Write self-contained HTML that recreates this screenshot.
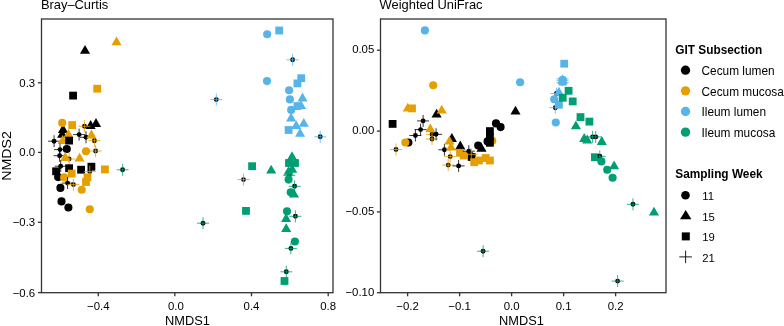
<!DOCTYPE html>
<html><head><meta charset="utf-8"><title>NMDS</title>
<style>
html,body{margin:0;padding:0;background:#fff;}
body{width:784px;height:326px;overflow:hidden;font-family:"Liberation Sans",sans-serif;}
svg{display:block;will-change:transform;}
text{font-family:"Liberation Sans",sans-serif;fill:#000;}
.tk{font-size:11.4px;fill:#000;}
.tx{font-size:11.85px;}
.tb{font-size:11.85px;font-weight:bold;}
.tt{font-size:12.9px;}
.tn{font-size:11.3px;}
.ta{font-size:12.8px;}
</style></head>
<body>
<svg width="784" height="326" viewBox="0 0 784 326">
<rect x="0" y="0" width="784" height="326" fill="#ffffff"/>
<rect x="41.5" y="19.0" width="291.5" height="273.7" fill="none" stroke="#333333" stroke-width="1.3"/>
<rect x="380.5" y="19.0" width="285.5" height="273.7" fill="none" stroke="#333333" stroke-width="1.3"/>
<text x="35.2" y="86.70" text-anchor="end" class="tk">0.3</text>
<text x="35.2" y="156.30" text-anchor="end" class="tk">0.0</text>
<text x="35.2" y="226.20" text-anchor="end" class="tk">−0.3</text>
<text x="35.2" y="296.50" text-anchor="end" class="tk">−0.6</text>
<text x="98.3" y="310.0" text-anchor="middle" class="tk">−0.4</text>
<text x="175.9" y="310.0" text-anchor="middle" class="tk">0.0</text>
<text x="251.5" y="310.0" text-anchor="middle" class="tk">0.4</text>
<text x="328.2" y="310.0" text-anchor="middle" class="tk">0.8</text>
<text x="374.3" y="53.40" text-anchor="end" class="tk">0.05</text>
<text x="374.3" y="134.30" text-anchor="end" class="tk">0.00</text>
<text x="374.3" y="215.10" text-anchor="end" class="tk">−0.05</text>
<text x="374.3" y="295.90" text-anchor="end" class="tk">−0.10</text>
<text x="407.6" y="310.0" text-anchor="middle" class="tk">−0.2</text>
<text x="459.6" y="310.0" text-anchor="middle" class="tk">−0.1</text>
<text x="511.6" y="310.0" text-anchor="middle" class="tk">0.0</text>
<text x="563.6" y="310.0" text-anchor="middle" class="tk">0.1</text>
<text x="615.6" y="310.0" text-anchor="middle" class="tk">0.2</text>
<path d="M37.9 82.8H41.5" stroke="#333333" stroke-width="1.3"/>
<path d="M37.9 152.4H41.5" stroke="#333333" stroke-width="1.3"/>
<path d="M37.9 222.3H41.5" stroke="#333333" stroke-width="1.3"/>
<path d="M37.9 292.6H41.5" stroke="#333333" stroke-width="1.3"/>
<path d="M98.3 292.7V296.3" stroke="#333333" stroke-width="1.3"/>
<path d="M174.8 292.7V296.3" stroke="#333333" stroke-width="1.3"/>
<path d="M251.5 292.7V296.3" stroke="#333333" stroke-width="1.3"/>
<path d="M328.2 292.7V296.3" stroke="#333333" stroke-width="1.3"/>
<path d="M376.9 50.2H380.5" stroke="#333333" stroke-width="1.3"/>
<path d="M376.9 131.1H380.5" stroke="#333333" stroke-width="1.3"/>
<path d="M376.9 211.9H380.5" stroke="#333333" stroke-width="1.3"/>
<path d="M376.9 292.7H380.5" stroke="#333333" stroke-width="1.3"/>
<path d="M407.6 292.7V296.3" stroke="#333333" stroke-width="1.3"/>
<path d="M459.6 292.7V296.3" stroke="#333333" stroke-width="1.3"/>
<path d="M511.6 292.7V296.3" stroke="#333333" stroke-width="1.3"/>
<path d="M563.6 292.7V296.3" stroke="#333333" stroke-width="1.3"/>
<path d="M615.6 292.7V296.3" stroke="#333333" stroke-width="1.3"/>
<text x="40.9" y="9.3" class="tt">Bray–Curtis</text>
<text x="379.6" y="9.3" class="tt">Weighted UniFrac</text>
<text x="187.4" y="324.8" text-anchor="middle" class="ta">NMDS1</text>
<text x="521.5" y="324.8" text-anchor="middle" class="ta">NMDS1</text>
<text transform="translate(10.6,155.9) rotate(-90) scale(1.11,1)" text-anchor="middle" class="ta">NMDS2</text>
<text x="675.3" y="53.8" class="tb">GIT Subsection</text>
<circle cx="685.5" cy="70.20" r="4.65" fill="#000000"/>
<text x="701.5" y="75.00" class="tx">Cecum lumen</text>
<circle cx="685.5" cy="90.85" r="4.65" fill="#E69F00"/>
<text x="701.5" y="95.65" class="tx">Cecum mucosa</text>
<circle cx="685.5" cy="111.50" r="4.65" fill="#56B4E9"/>
<text x="701.5" y="116.30" class="tx">Ileum lumen</text>
<circle cx="685.5" cy="132.15" r="4.65" fill="#009E73"/>
<text x="701.5" y="136.95" class="tx">Ileum mucosa</text>
<text x="675.3" y="178.1" class="tb">Sampling Week</text>
<circle cx="685.5" cy="195.2" r="4.3" fill="#000"/>
<path d="M685.7 210.1L691.4000000000001 219.20000000000002L680.0 219.20000000000002Z" fill="#000"/>
<rect x="681.8" y="232.4" width="8.0" height="8.0" fill="#000"/>
<path d="M679.3000000000001 256.9H691.9M685.6 250.6V263.2" stroke="#000" stroke-width="0.9" fill="none"/>
<text x="702.3" y="199.80" class="tn">11</text>
<text x="702.3" y="220.50" class="tn">15</text>
<text x="702.3" y="241.10" class="tn">19</text>
<text x="702.3" y="261.80" class="tn">21</text>
<g><path d="M85.0 44.90L90.05 53.70L79.95 53.70Z" fill="#000000"/>
<path d="M116.5 36.40L121.55 45.20L111.45 45.20Z" fill="#E69F00"/>
<rect x="93.30" y="84.80" width="7.8" height="7.8" fill="#E69F00"/>
<rect x="69.20" y="91.70" width="7.8" height="7.8" fill="#000000"/>
<rect x="68.30" y="121.20" width="7.8" height="7.8" fill="#E69F00"/>
<path d="M90.6 120.10L95.65 128.90L85.55 128.90Z" fill="#000000"/>
<path d="M96.0 118.10L101.05 126.90L90.95 126.90Z" fill="#000000"/>
<circle cx="84.5" cy="126.3" r="2.45" fill="#000"/><path d="M78.50 126.30H90.50M84.50 120.30V132.30" stroke="#E69F00" stroke-width="0.8" fill="none"/>
<path d="M62.2 128.90L67.25 137.70L57.15 137.70Z" fill="#000000"/>
<path d="M63.0 124.10L68.05 132.90L57.95 132.90Z" fill="#000000"/>
<circle cx="62.2" cy="122.9" r="4.05" fill="#E69F00"/>
<path d="M68.4 128.90L73.45 137.70L63.35 137.70Z" fill="#E69F00"/>
<circle cx="79.1" cy="134.6" r="2.45" fill="#000"/><path d="M73.10 134.60H85.10M79.10 128.60V140.60" stroke="#000000" stroke-width="0.8" fill="none"/>
<circle cx="86.0" cy="137.3" r="2.45" fill="#000"/><path d="M80.00 137.30H92.00M86.00 131.30V143.30" stroke="#000000" stroke-width="0.8" fill="none"/>
<path d="M91.4 129.60L96.45 138.40L86.35 138.40Z" fill="#E69F00"/>
<circle cx="54.1" cy="141.2" r="2.45" fill="#000"/><path d="M48.10 141.20H60.10M54.10 135.20V147.20" stroke="#000000" stroke-width="0.8" fill="none"/>
<path d="M62.7 135.10L67.75 143.90L57.65 143.90Z" fill="#E69F00"/>
<rect x="65.20" y="136.70" width="7.8" height="7.8" fill="#000000"/>
<circle cx="94.4" cy="140.7" r="2.45" fill="#000"/><path d="M88.40 140.70H100.40M94.40 134.70V146.70" stroke="#E69F00" stroke-width="0.8" fill="none"/>
<circle cx="60.0" cy="149.6" r="2.45" fill="#000"/><path d="M54.00 149.60H66.00M60.00 143.60V155.60" stroke="#000000" stroke-width="0.8" fill="none"/>
<circle cx="66.8" cy="149.0" r="4.05" fill="#000000"/>
<circle cx="86.0" cy="151.3" r="4.05" fill="#E69F00"/>
<circle cx="95.6" cy="151.0" r="2.45" fill="#000"/><path d="M89.60 151.00H101.60M95.60 145.00V157.00" stroke="#E69F00" stroke-width="0.8" fill="none"/>
<circle cx="59.6" cy="155.7" r="2.45" fill="#000"/><path d="M53.60 155.70H65.60M59.60 149.70V161.70" stroke="#000000" stroke-width="0.8" fill="none"/>
<circle cx="69.1" cy="159.0" r="2.45" fill="#000"/><path d="M63.10 159.00H75.10M69.10 153.00V165.00" stroke="#E69F00" stroke-width="0.8" fill="none"/>
<path d="M65.3 152.10L70.35 160.90L60.25 160.90Z" fill="#E69F00"/>
<path d="M79.6 152.70L84.65 161.50L74.55 161.50Z" fill="#E69F00"/>
<circle cx="60.7" cy="166.2" r="2.45" fill="#000"/><path d="M54.70 166.20H66.70M60.70 160.20V172.20" stroke="#000000" stroke-width="0.8" fill="none"/>
<rect x="52.20" y="167.40" width="7.8" height="7.8" fill="#000000"/>
<rect x="65.20" y="164.30" width="7.8" height="7.8" fill="#000000"/>
<rect x="77.20" y="165.80" width="7.8" height="7.8" fill="#000000"/>
<rect x="87.50" y="162.80" width="7.8" height="7.8" fill="#000000"/>
<circle cx="89.8" cy="171.6" r="2.45" fill="#000"/><path d="M83.80 171.60H95.80M89.80 165.60V177.60" stroke="#E69F00" stroke-width="0.8" fill="none"/>
<rect x="67.80" y="169.70" width="7.8" height="7.8" fill="#E69F00"/>
<rect x="83.60" y="173.50" width="7.8" height="7.8" fill="#E69F00"/>
<rect x="82.10" y="178.10" width="7.8" height="7.8" fill="#E69F00"/>
<circle cx="58.1" cy="177.1" r="4.05" fill="#000000"/>
<circle cx="64.1" cy="177.4" r="4.05" fill="#E69F00"/>
<circle cx="67.6" cy="183.1" r="2.45" fill="#000"/><path d="M61.60 183.10H73.60M67.60 177.10V189.10" stroke="#000000" stroke-width="0.8" fill="none"/>
<circle cx="73.4" cy="184.6" r="2.45" fill="#000"/><path d="M67.40 184.60H79.40M73.40 178.60V190.60" stroke="#E69F00" stroke-width="0.8" fill="none"/>
<circle cx="60.4" cy="187.9" r="4.05" fill="#000000"/>
<circle cx="81.7" cy="189.8" r="4.05" fill="#E69F00"/>
<circle cx="61.5" cy="201.4" r="4.05" fill="#000000"/>
<circle cx="68.4" cy="207.5" r="4.05" fill="#000000"/>
<circle cx="89.8" cy="209.3" r="4.05" fill="#E69F00"/>
<rect x="101.00" y="165.50" width="7.8" height="7.8" fill="#E69F00"/>
<circle cx="122.6" cy="169.8" r="2.45" fill="#000"/><path d="M116.60 169.80H128.60M122.60 163.80V175.80" stroke="#009E73" stroke-width="0.8" fill="none"/>
<circle cx="216.3" cy="99.6" r="2.45" fill="#000"/><path d="M210.30 99.60H222.30M216.30 93.60V105.60" stroke="#56B4E9" stroke-width="0.8" fill="none"/>
<circle cx="267.0" cy="81.1" r="4.05" fill="#56B4E9"/>
<rect x="248.20" y="162.30" width="7.8" height="7.8" fill="#009E73"/>
<path d="M271.2 164.70L276.25 173.50L266.15 173.50Z" fill="#009E73"/>
<circle cx="243.5" cy="179.6" r="2.45" fill="#000"/><path d="M237.50 179.60H249.50M243.50 173.60V185.60" stroke="#56B4E9" stroke-width="0.8" fill="none"/>
<rect x="242.10" y="207.00" width="7.8" height="7.8" fill="#009E73"/>
<circle cx="203.0" cy="223.2" r="2.45" fill="#000"/><path d="M197.00 223.20H209.00M203.00 217.20V229.20" stroke="#009E73" stroke-width="0.8" fill="none"/>
<circle cx="267.2" cy="34.2" r="4.05" fill="#56B4E9"/>
<rect x="275.30" y="26.60" width="7.8" height="7.8" fill="#56B4E9"/>
<circle cx="292.6" cy="59.8" r="2.45" fill="#000"/><path d="M286.60 59.80H298.60M292.60 53.80V65.80" stroke="#56B4E9" stroke-width="0.8" fill="none"/>
<rect x="297.30" y="74.30" width="7.8" height="7.8" fill="#56B4E9"/>
<rect x="293.50" y="79.50" width="7.8" height="7.8" fill="#56B4E9"/>
<circle cx="289.1" cy="90.2" r="4.05" fill="#56B4E9"/>
<circle cx="289.9" cy="99.4" r="4.05" fill="#56B4E9"/>
<circle cx="291.2" cy="109.9" r="4.05" fill="#56B4E9"/>
<path d="M302.5 92.60L307.55 101.40L297.45 101.40Z" fill="#56B4E9"/>
<rect x="293.50" y="102.20" width="7.8" height="7.8" fill="#56B4E9"/>
<path d="M301.0 100.30L306.05 109.10L295.95 109.10Z" fill="#56B4E9"/>
<path d="M291.1 112.80L296.15 121.60L286.05 121.60Z" fill="#56B4E9"/>
<path d="M303.8 117.90L308.85 126.70L298.75 126.70Z" fill="#56B4E9"/>
<path d="M296.2 120.20L301.25 129.00L291.15 129.00Z" fill="#56B4E9"/>
<rect x="284.70" y="126.10" width="7.8" height="7.8" fill="#56B4E9"/>
<path d="M300.1 128.00L305.15 136.80L295.05 136.80Z" fill="#56B4E9"/>
<circle cx="320.2" cy="136.8" r="2.45" fill="#000"/><path d="M314.20 136.80H326.20M320.20 130.80V142.80" stroke="#56B4E9" stroke-width="0.8" fill="none"/>
<circle cx="289.2" cy="175.6" r="2.45" fill="#000"/><path d="M283.20 175.60H295.20M289.20 169.60V181.60" stroke="#009E73" stroke-width="0.8" fill="none"/>
<path d="M288.6 165.90L293.65 174.70L283.55 174.70Z" fill="#009E73"/>
<path d="M292.2 163.90L297.25 172.70L287.15 172.70Z" fill="#009E73"/>
<path d="M292.0 151.30L297.05 160.10L286.95 160.10Z" fill="#009E73"/>
<rect x="285.10" y="159.10" width="7.8" height="7.8" fill="#009E73"/>
<rect x="291.10" y="159.10" width="7.8" height="7.8" fill="#009E73"/>
<circle cx="288.6" cy="179.6" r="4.05" fill="#009E73"/>
<circle cx="294.6" cy="186.3" r="2.45" fill="#000"/><path d="M288.60 186.30H300.60M294.60 180.30V192.30" stroke="#009E73" stroke-width="0.8" fill="none"/>
<circle cx="290.7" cy="192.2" r="4.05" fill="#009E73"/>
<path d="M294.0 188.70L299.05 197.50L288.95 197.50Z" fill="#009E73"/>
<circle cx="287.0" cy="211.2" r="4.05" fill="#009E73"/>
<circle cx="295.4" cy="216.3" r="2.45" fill="#000"/><path d="M289.40 216.30H301.40M295.40 210.30V222.30" stroke="#009E73" stroke-width="0.8" fill="none"/>
<path d="M286.1 213.10L291.15 221.90L281.05 221.90Z" fill="#009E73"/>
<path d="M286.2 223.30L291.25 232.10L281.15 232.10Z" fill="#009E73"/>
<circle cx="294.9" cy="241.5" r="4.05" fill="#009E73"/>
<circle cx="290.9" cy="248.4" r="2.45" fill="#000"/><path d="M284.90 248.40H296.90M290.90 242.40V254.40" stroke="#009E73" stroke-width="0.8" fill="none"/>
<circle cx="286.3" cy="271.8" r="2.45" fill="#000"/><path d="M280.30 271.80H292.30M286.30 265.80V277.80" stroke="#009E73" stroke-width="0.8" fill="none"/>
<rect x="280.60" y="277.10" width="7.8" height="7.8" fill="#009E73"/></g>
<g><circle cx="424.9" cy="30.4" r="4.05" fill="#56B4E9"/>
<circle cx="433.2" cy="85.3" r="4.05" fill="#E69F00"/>
<rect x="408.10" y="104.50" width="7.8" height="7.8" fill="#E69F00"/>
<path d="M407.8 102.80L412.85 111.60L402.75 111.60Z" fill="#E69F00"/>
<rect x="388.70" y="120.00" width="7.8" height="7.8" fill="#000000"/>
<path d="M436.6 108.70L441.65 117.50L431.55 117.50Z" fill="#000000"/>
<path d="M441.7 104.70L446.75 113.50L436.65 113.50Z" fill="#E69F00"/>
<circle cx="423.1" cy="120.9" r="2.45" fill="#000"/><path d="M417.10 120.90H429.10M423.10 114.90V126.90" stroke="#000000" stroke-width="0.8" fill="none"/>
<circle cx="420.6" cy="129.6" r="2.45" fill="#000"/><path d="M414.60 129.60H426.60M420.60 123.60V135.60" stroke="#000000" stroke-width="0.8" fill="none"/>
<circle cx="415.4" cy="135.5" r="2.45" fill="#000"/><path d="M409.40 135.50H421.40M415.40 129.50V141.50" stroke="#000000" stroke-width="0.8" fill="none"/>
<path d="M430.3 123.50L435.35 132.30L425.25 132.30Z" fill="#E69F00"/>
<circle cx="432.0" cy="134.5" r="2.45" fill="#000"/><path d="M426.00 134.50H438.00M432.00 128.50V140.50" stroke="#E69F00" stroke-width="0.8" fill="none"/>
<circle cx="432.0" cy="139.0" r="2.45" fill="#000"/><path d="M426.00 139.00H438.00M432.00 133.00V145.00" stroke="#E69F00" stroke-width="0.8" fill="none"/>
<circle cx="436.1" cy="134.3" r="2.45" fill="#000"/><path d="M430.10 134.30H442.10M436.10 128.30V140.30" stroke="#000000" stroke-width="0.8" fill="none"/>
<circle cx="408.4" cy="142.5" r="4.05" fill="#000000"/>
<circle cx="405.3" cy="142.5" r="4.05" fill="#E69F00"/>
<circle cx="396.0" cy="149.5" r="2.45" fill="#000"/><path d="M390.00 149.50H402.00M396.00 143.50V155.50" stroke="#E69F00" stroke-width="0.8" fill="none"/>
<circle cx="444.4" cy="149.8" r="2.45" fill="#000"/><path d="M438.40 149.80H450.40M444.40 143.80V155.80" stroke="#000000" stroke-width="0.8" fill="none"/>
<path d="M451.9 133.10L456.95 141.90L446.85 141.90Z" fill="#000000"/>
<path d="M449.4 135.80L454.45 144.60L444.35 144.60Z" fill="#E69F00"/>
<path d="M451.0 141.70L456.05 150.50L445.95 150.50Z" fill="#E69F00"/>
<path d="M460.3 140.60L465.35 149.40L455.25 149.40Z" fill="#000000"/>
<circle cx="450.2" cy="156.6" r="2.45" fill="#000"/><path d="M444.20 156.60H456.20M450.20 150.60V162.60" stroke="#E69F00" stroke-width="0.8" fill="none"/>
<circle cx="448.2" cy="165.1" r="2.45" fill="#000"/><path d="M442.20 165.10H454.20M448.20 159.10V171.10" stroke="#E69F00" stroke-width="0.8" fill="none"/>
<circle cx="458.6" cy="165.9" r="2.45" fill="#000"/><path d="M452.60 165.90H464.60M458.60 159.90V171.90" stroke="#000000" stroke-width="0.8" fill="none"/>
<rect x="456.10" y="148.90" width="7.8" height="7.8" fill="#E69F00"/>
<rect x="459.80" y="151.60" width="7.8" height="7.8" fill="#E69F00"/>
<rect x="467.80" y="153.10" width="7.8" height="7.8" fill="#000000"/>
<rect x="470.30" y="158.30" width="7.8" height="7.8" fill="#E69F00"/>
<rect x="475.00" y="156.60" width="7.8" height="7.8" fill="#E69F00"/>
<rect x="481.80" y="154.10" width="7.8" height="7.8" fill="#E69F00"/>
<rect x="486.00" y="156.60" width="7.8" height="7.8" fill="#E69F00"/>
<circle cx="468.8" cy="151.2" r="2.45" fill="#000"/><path d="M462.80 151.20H474.80M468.80 145.20V157.20" stroke="#000000" stroke-width="0.8" fill="none"/>
<circle cx="471.3" cy="154.4" r="2.45" fill="#000"/><path d="M465.30 154.40H477.30M471.30 148.40V160.40" stroke="#E69F00" stroke-width="0.8" fill="none"/>
<circle cx="478.2" cy="145.5" r="4.05" fill="#000000"/>
<path d="M481.5 143.00L486.55 151.80L476.45 151.80Z" fill="#000000"/>
<circle cx="492.3" cy="140.7" r="4.05" fill="#E69F00"/>
<rect x="486.00" y="138.90" width="7.8" height="7.8" fill="#000000"/>
<rect x="486.00" y="133.00" width="7.8" height="7.8" fill="#000000"/>
<rect x="486.00" y="127.20" width="7.8" height="7.8" fill="#000000"/>
<circle cx="487.6" cy="141.4" r="4.05" fill="#000000"/>
<circle cx="496.0" cy="123.4" r="4.05" fill="#000000"/>
<circle cx="500.6" cy="127.1" r="4.05" fill="#000000"/>
<path d="M515.5 105.80L520.55 114.60L510.45 114.60Z" fill="#000000"/>
<circle cx="520.1" cy="82.3" r="4.05" fill="#56B4E9"/>
<rect x="560.30" y="59.80" width="7.8" height="7.8" fill="#56B4E9"/>
<circle cx="562.6" cy="80.3" r="2.45" fill="#000"/><path d="M556.60 80.30H568.60M562.60 74.30V86.30" stroke="#56B4E9" stroke-width="0.8" fill="none"/>
<path d="M556.60 78.80H568.60" stroke="#56B4E9" stroke-width="0.8" fill="none"/>
<path d="M556.60 82.60H568.60" stroke="#56B4E9" stroke-width="0.8" fill="none"/>
<rect x="558.70" y="77.80" width="7.8" height="7.8" fill="#56B4E9"/>
<circle cx="562.6" cy="79.9" r="4.05" fill="#56B4E9"/>
<path d="M562.6 75.30L567.65 84.10L557.55 84.10Z" fill="#56B4E9"/>
<circle cx="556.5" cy="93.5" r="2.45" fill="#000"/><path d="M550.50 93.50H562.50M556.50 87.50V99.50" stroke="#56B4E9" stroke-width="0.8" fill="none"/>
<circle cx="555.3" cy="107.7" r="2.45" fill="#000"/><path d="M549.30 107.70H561.30M555.30 101.70V113.70" stroke="#56B4E9" stroke-width="0.8" fill="none"/>
<circle cx="554.2" cy="99.2" r="4.05" fill="#56B4E9"/>
<path d="M558.9 86.70L563.95 95.50L553.85 95.50Z" fill="#56B4E9"/>
<rect x="555.00" y="100.80" width="7.8" height="7.8" fill="#56B4E9"/>
<rect x="564.70" y="86.90" width="7.8" height="7.8" fill="#009E73"/>
<rect x="558.80" y="93.90" width="7.8" height="7.8" fill="#009E73"/>
<rect x="568.80" y="97.50" width="7.8" height="7.8" fill="#009E73"/>
<rect x="576.60" y="113.20" width="7.8" height="7.8" fill="#009E73"/>
<rect x="585.50" y="117.70" width="7.8" height="7.8" fill="#009E73"/>
<circle cx="555.8" cy="122.5" r="4.05" fill="#56B4E9"/>
<path d="M575.9 120.40L580.95 129.20L570.85 129.20Z" fill="#009E73"/>
<path d="M584.2 133.10L589.25 141.90L579.15 141.90Z" fill="#009E73"/>
<path d="M587.2 134.60L592.25 143.40L582.15 143.40Z" fill="#009E73"/>
<circle cx="592.6" cy="136.9" r="2.45" fill="#000"/><path d="M586.60 136.90H598.60M592.60 130.90V142.90" stroke="#009E73" stroke-width="0.8" fill="none"/>
<circle cx="595.7" cy="136.9" r="2.45" fill="#000"/><path d="M589.70 136.90H601.70M595.70 130.90V142.90" stroke="#009E73" stroke-width="0.8" fill="none"/>
<path d="M601.8 136.10L606.85 144.90L596.75 144.90Z" fill="#009E73"/>
<rect x="591.00" y="153.30" width="7.8" height="7.8" fill="#009E73"/>
<circle cx="599.8" cy="156.3" r="2.45" fill="#000"/><path d="M593.80 156.30H605.80M599.80 150.30V162.30" stroke="#009E73" stroke-width="0.8" fill="none"/>
<circle cx="601.4" cy="161.4" r="4.05" fill="#009E73"/>
<path d="M614.1 160.40L619.15 169.20L609.05 169.20Z" fill="#009E73"/>
<circle cx="607.2" cy="169.8" r="4.05" fill="#009E73"/>
<circle cx="612.6" cy="177.8" r="4.05" fill="#009E73"/>
<circle cx="633.0" cy="204.3" r="2.45" fill="#000"/><path d="M627.00 204.30H639.00M633.00 198.30V210.30" stroke="#009E73" stroke-width="0.8" fill="none"/>
<path d="M654.0 206.80L659.05 215.60L648.95 215.60Z" fill="#009E73"/>
<circle cx="617.6" cy="281.1" r="2.45" fill="#000"/><path d="M611.60 281.10H623.60M617.60 275.10V287.10" stroke="#009E73" stroke-width="0.8" fill="none"/>
<circle cx="483.1" cy="251.2" r="2.45" fill="#000"/><path d="M477.10 251.20H489.10M483.10 245.20V257.20" stroke="#009E73" stroke-width="0.8" fill="none"/></g>
</svg>
</body></html>
